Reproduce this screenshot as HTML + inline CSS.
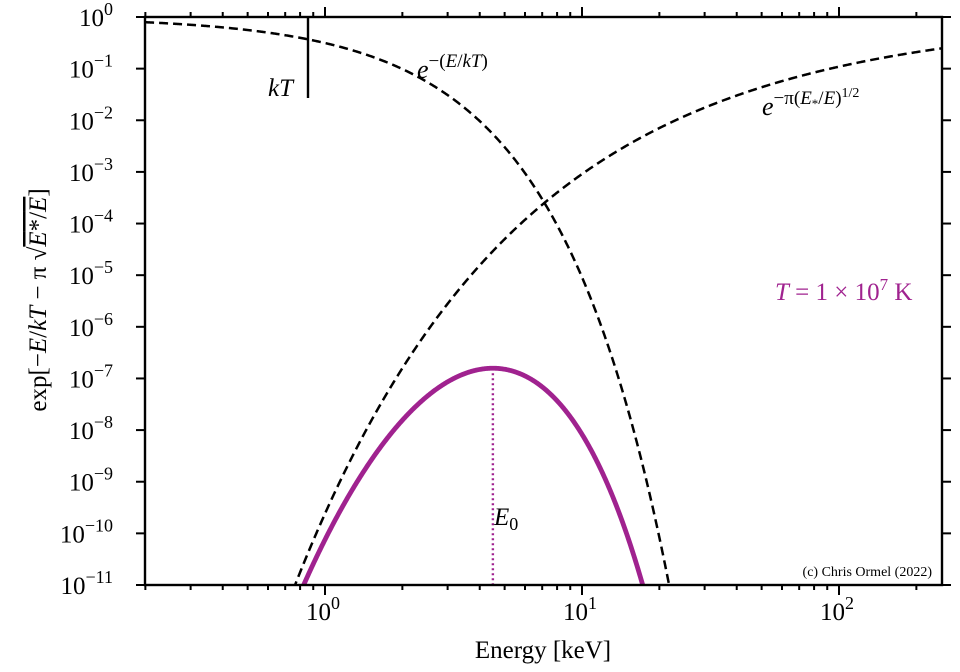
<!DOCTYPE html>
<html><head><meta charset="utf-8"><style>
body{margin:0;background:#fff}
svg{display:block;font-family:"Liberation Serif","DejaVu Serif",serif}
</style></head><body>
<svg id="s" width="960" height="672" viewBox="0 0 960 672" xmlns="http://www.w3.org/2000/svg">
<rect width="960" height="672" fill="#fff"/>
<g id="curves"></g>
<g id="ticks" stroke="#000" stroke-width="2"></g>
<rect x="145" y="17" width="797" height="568" fill="none" stroke="#000" stroke-width="2.4"/>
<g id="labels" font-size="25" fill="#000"></g>
<line x1="308" y1="17" x2="308" y2="98" stroke="#000" stroke-width="2.4"/>
<text x="268" y="96" font-size="25" font-style="italic">kT</text>
<text x="417" y="78" font-size="26"><tspan font-style="italic">e</tspan><tspan font-size="19" dy="-11">−(<tspan font-style="italic">E</tspan>/<tspan font-style="italic">kT</tspan>)</tspan></text>
<text x="762" y="115" font-size="26"><tspan font-style="italic">e</tspan><tspan font-size="19" dy="-11">−π(<tspan font-style="italic">E</tspan><tspan font-size="13" dy="4">*</tspan><tspan dy="-4">/</tspan><tspan font-style="italic">E</tspan>)<tspan font-size="14" dy="-7">1/2</tspan></tspan></text>
<text x="775" y="300" font-size="25" fill="#a0228f"><tspan font-style="italic">T</tspan> = 1 × 10<tspan font-size="17" dy="-10">7</tspan><tspan dy="10"> K</tspan></text>
<text x="494" y="525" font-size="25" font-style="italic">E<tspan font-style="normal" font-size="18" dy="5">0</tspan></text>
<text x="932" y="576" font-size="14" text-anchor="end">(c) Chris Ormel (2022)</text>
<text x="543" y="658" font-size="25" text-anchor="middle">Energy [keV]</text>
<text transform="translate(46,300) rotate(-90)" font-size="25" text-anchor="middle">exp[−<tspan font-style="italic">E</tspan>/<tspan font-style="italic">kT</tspan> − π √<tspan text-decoration="overline"><tspan font-style="italic">E</tspan>*/<tspan font-style="italic">E</tspan></tspan>]</text>
</svg>
<script>
var X0=325,DX=257,Y0=17,DY=51.636;
function px(E){return X0+DX*Math.log10(E);}
function py(l){return Y0-DY*l;}
var kT=0.8617,Es=49.7;
var ns="http://www.w3.org/2000/svg";
function path(f,col,w,dash){var d="",st=false;
 for(var i=0;i<=1200;i++){var lx=-0.7+3.1*i/1200,E=Math.pow(10,lx),l=f(E);
  var y=py(l);if(y>590||y<10){if(st){d+="L"+px(E).toFixed(2)+" "+y.toFixed(2);}st=false;continue;}
  d+=(st?"L":"M")+px(E).toFixed(2)+" "+y.toFixed(2);st=true;}
 var p=document.createElementNS(ns,"path");p.setAttribute("d",d);p.setAttribute("fill","none");
 p.setAttribute("stroke",col);p.setAttribute("stroke-width",w);if(dash)p.setAttribute("stroke-dasharray",dash);
 document.getElementById("curves").appendChild(p);}
var L=Math.LOG10E;
var g=document.getElementById("curves");
var cp=document.createElementNS(ns,"clipPath");cp.id="c";var r=document.createElementNS(ns,"rect");
r.setAttribute("x",145);r.setAttribute("y",17);r.setAttribute("width",797);r.setAttribute("height",568);cp.appendChild(r);
document.getElementById("s").appendChild(cp);g.setAttribute("clip-path","url(#c)");
path(function(E){return -E/kT*L;},"#000",2.5,"9,5");
path(function(E){return -Math.PI*Math.sqrt(Es/E)*L;},"#000",2.5,"9,5");
path(function(E){return (-E/kT-Math.PI*Math.sqrt(Es/E))*L;},"#a0228f",4.8);
var E0=4.5,pk=(-E0/kT-Math.PI*Math.sqrt(Es/E0))*L;
var ln=document.createElementNS(ns,"line");ln.setAttribute("x1",px(E0));ln.setAttribute("x2",px(E0));
ln.setAttribute("y1",py(pk));ln.setAttribute("y2",585);ln.setAttribute("stroke","#a0228f");ln.setAttribute("stroke-width",2.4);ln.setAttribute("stroke-dasharray","2,3");g.appendChild(ln);
var t=document.getElementById("ticks"),lab=document.getElementById("labels"),h="";
function line(a,b,c,d){h+='<line x1="'+a+'" y1="'+b+'" x2="'+c+'" y2="'+d+'"/>';}
for(var dec=-1;dec<=2;dec++)for(var m=1;m<10;m++){var E=m*Math.pow(10,dec),x=px(E);if(x<145||x>942)continue;
 var len=m==1?10:5;line(x,585,x,585+len);line(x,17,x,17-len);}
var lh="";
for(var k=0;k<=11;k++){var y=py(-k);line(136,y,145,y);line(942,y,951,y);
 lh+='<text x="113" y="'+(y+9)+'" text-anchor="end">10<tspan font-size="18" dy="-11">'+(k==0?"0":"−"+k)+'</tspan></text>';}
[[0,"0"],[1,"1"],[2,"2"]].forEach(function(a){lh+='<text x="'+(px(Math.pow(10,a[0]))-2)+'" y="620" text-anchor="middle">10<tspan font-size="18" dy="-11">'+a[1]+'</tspan></text>';});
t.innerHTML=h;lab.innerHTML=lh;
</script>
</body></html>
